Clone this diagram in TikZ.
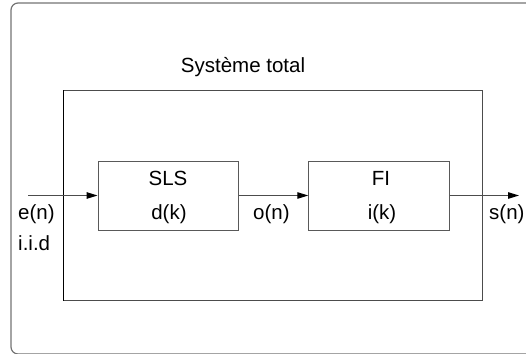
\documentclass[tikz,border=0pt]{standalone}
\usepackage{fontspec}
\setmainfont{Liberation Sans}
\usetikzlibrary{arrows.meta}
\begin{document}
\begin{tikzpicture}[x=1pt,y=-1pt,
  lbl/.style={anchor=base west,inner sep=0pt,font=\fontsize{20.5}{24}\selectfont},
  clbl/.style={anchor=base,inner sep=0pt,font=\fontsize{20.5}{24}\selectfont},
  blockbox/.style={draw=black!65,line width=1pt,minimum width=140pt,minimum height=69pt,inner sep=0pt},
  conn/.style={draw=black!70,line width=1pt,-{Triangle[length=11pt,width=6.5pt,color=black]}}]
\useasboundingbox (0,0) rectangle (526,353);
\clip (0,0) rectangle (526,353);
% outer frame
\draw[black!55,line width=1.2pt,rounded corners=7pt] (11,3) rectangle (534,354);
% total system
\draw[black!70,line width=1pt] (63,90) rectangle (482,300.5);
\draw[black,line width=1pt] (63,90) -- (63,300.5);
\node[clbl] (tot) at (243,72) {Système total};
% blocks
\node[blockbox,minimum width=140.7pt] (sls) at (168.4,195.5) {};
\node[blockbox,minimum width=140.3pt] (fi) at (378.9,195.5) {};
\node[clbl] (slst) at (168,185) {SLS};
\node[clbl] (dk) at (169,219) {d(k)};
\node[clbl] (fit) at (381,185) {FI};
\node[clbl] (ik) at (382,219) {i(k)};
% labels
\node[lbl] (en) at (18,219) {e(n)};
\node[lbl] (iid) at (18,250) {i.i.d};
\node[lbl] (on) at (253,219) {o(n)};
\node[lbl] (sn) at (489,219) {s(n)};
% connectors
\coordinate (in) at (28,195.5);
\coordinate (out) at (519,195.5);
\draw[conn] (in) -- (sls.west);
\draw[conn] (sls.east) -- (fi.west);
\draw[conn] (fi.east) -- (out);
\end{tikzpicture}
\end{document}
